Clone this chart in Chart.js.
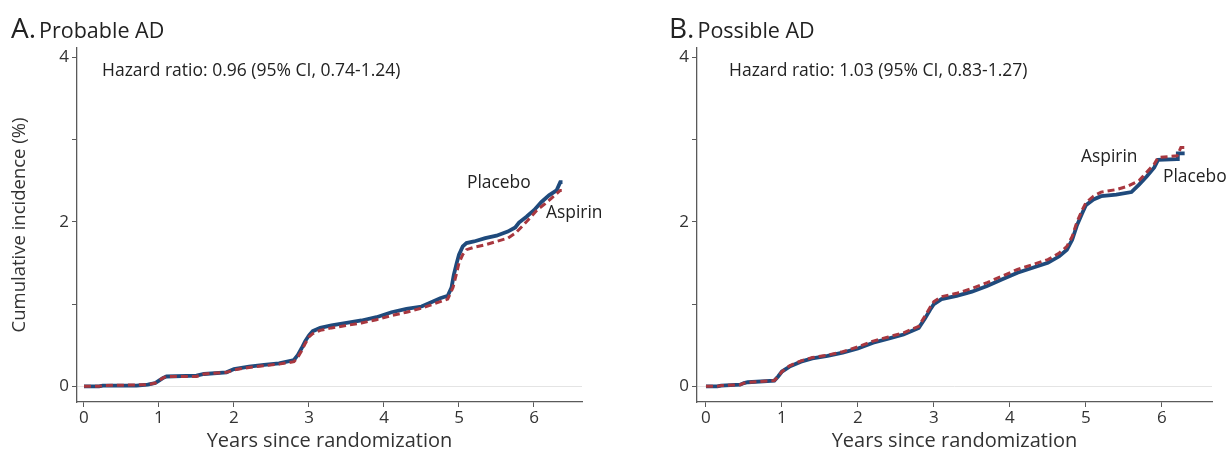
<!DOCTYPE html>
<html>
<head>
<meta charset="utf-8">
<script src="https://cdn.jsdelivr.net/npm/chart.js@4/dist/chart.umd.min.js"></script>
<style>
  html, body { margin: 0; padding: 0; background: #fff; }
  body { width: 1228px; height: 457px; position: relative; overflow: hidden; font-family: "Open Sans", "Noto Sans", sans-serif; color: #222; }
  .panel { position: absolute; top: 0; width: 614px; height: 457px; }
  .txt { position: absolute; white-space: nowrap; line-height: 1; }
  .ttl { position: absolute; white-space: nowrap; display: flex; align-items: baseline; }
  .ttl .big { font-size: 28px; }
  .ttl .small { font-size: 21.5px; margin-left: 3px; }
</style>
</head>
<body>
<div class="panel" style="left:0"><canvas id="cA" width="614" height="457"></canvas></div>
<div class="panel" style="left:614px"><canvas id="cB" width="614" height="457"></canvas></div>

<div class="ttl" style="left:11px; top:8px;"><span class="big">A.</span><span class="small">Probable AD</span></div>
<div class="ttl" style="left:669px; top:8px;"><span class="big">B.</span><span class="small">Possible AD</span></div>

<div class="txt" style="left:102px; top:61px; font-size:17.5px;">Hazard ratio: 0.96 (95% CI, 0.74-1.24)</div>
<div class="txt" style="left:729px; top:61px; font-size:17.5px;">Hazard ratio: 1.03 (95% CI, 0.83-1.27)</div>

<div class="txt" style="left:467px; top:173px; font-size:17.4px;">Placebo</div>
<div class="txt" style="left:546px; top:203px; font-size:17.4px;">Aspirin</div>
<div class="txt" style="left:1081px; top:147px; font-size:17.4px;">Aspirin</div>
<div class="txt" style="left:1163px; top:167px; font-size:17.4px;">Placebo</div>

<script>
// ---- Data (years since randomization, cumulative incidence %) ----
const xTickValues = [0, 1, 2, 3, 4, 5, 6];
const yTickValues = [0, 1, 2, 3, 4];
const yTickLabels = [0, 2, 4];

// Panel A: Probable AD
const probPlaceboX = [0,0.2,0.25,0.7,0.85,0.95,1.0,1.05,1.1,1.5,1.6,1.9,2.0,2.2,2.4,2.6,2.8,2.85,2.9,2.95,3.0,3.05,3.15,3.3,3.5,3.7,3.9,4.1,4.3,4.5,4.6,4.75,4.85,4.9,4.93,4.97,5.0,5.05,5.1,5.2,5.35,5.5,5.65,5.75,5.8,5.9,6.0,6.1,6.2,6.3,6.35,6.38];
const probPlaceboY = [0,0,0.01,0.01,0.02,0.04,0.07,0.10,0.12,0.13,0.15,0.17,0.21,0.24,0.26,0.28,0.32,0.38,0.46,0.55,0.62,0.67,0.71,0.74,0.77,0.80,0.84,0.90,0.94,0.97,1.01,1.07,1.10,1.20,1.35,1.50,1.60,1.70,1.74,1.76,1.80,1.83,1.88,1.93,1.99,2.06,2.14,2.24,2.32,2.38,2.48,2.48];
const probAspirinX = [0,0.2,0.25,0.85,0.95,1.0,1.05,1.1,1.5,1.6,1.9,2.0,2.2,2.4,2.6,2.8,2.85,2.9,2.95,3.0,3.05,3.15,3.3,3.5,3.7,3.9,4.1,4.3,4.5,4.6,4.75,4.85,4.92,4.97,5.0,5.05,5.1,5.2,5.35,5.5,5.65,5.75,5.85,5.95,6.05,6.15,6.25,6.35,6.37];
const probAspirinY = [0,0,0.01,0.02,0.04,0.07,0.10,0.12,0.12,0.15,0.17,0.20,0.23,0.25,0.27,0.30,0.35,0.43,0.52,0.60,0.64,0.68,0.71,0.74,0.77,0.81,0.86,0.90,0.95,0.98,1.03,1.06,1.20,1.38,1.50,1.60,1.66,1.69,1.72,1.76,1.80,1.86,1.95,2.05,2.15,2.22,2.30,2.38,2.38];

// Panel B: Possible AD
const possPlaceboX = [0,0.15,0.2,0.45,0.5,0.55,0.9,0.95,1.0,1.1,1.25,1.4,1.6,1.8,2.0,2.2,2.4,2.6,2.8,2.88,2.95,3.0,3.1,3.3,3.5,3.7,3.9,4.1,4.3,4.5,4.65,4.75,4.82,4.88,4.95,5.0,5.1,5.2,5.4,5.6,5.7,5.8,5.9,5.95,6.2,6.21,6.3];
const possPlaceboY = [0,0,0.01,0.02,0.04,0.05,0.07,0.12,0.18,0.24,0.30,0.34,0.37,0.41,0.46,0.53,0.58,0.63,0.71,0.82,0.93,1.00,1.06,1.10,1.15,1.22,1.30,1.38,1.44,1.50,1.58,1.66,1.78,1.95,2.10,2.20,2.27,2.31,2.33,2.36,2.45,2.55,2.66,2.75,2.76,2.83,2.83];
const possAspirinX = [0,0.15,0.2,0.45,0.5,0.55,0.9,0.95,1.0,1.1,1.25,1.4,1.6,1.8,2.0,2.2,2.4,2.6,2.8,2.88,2.95,3.0,3.1,3.3,3.5,3.7,3.9,4.1,4.3,4.5,4.65,4.75,4.82,4.88,4.95,5.0,5.1,5.2,5.4,5.55,5.7,5.8,5.9,5.95,6.2,6.25,6.3];
const possAspirinY = [0,0,0.01,0.02,0.04,0.05,0.07,0.12,0.18,0.25,0.31,0.35,0.38,0.42,0.48,0.55,0.60,0.65,0.73,0.85,0.96,1.03,1.09,1.13,1.19,1.26,1.34,1.42,1.48,1.54,1.62,1.70,1.82,1.99,2.14,2.23,2.31,2.36,2.39,2.43,2.50,2.60,2.70,2.78,2.80,2.90,2.90];

const placeboColor = '#1f4a7c';
const aspirinColor = '#a8373f';
const axisColor = '#5a5a5a';
const fontFamily = '"Open Sans", "Noto Sans", sans-serif';

function pts(xs, ys) { return xs.map((x, i) => ({ x: x, y: ys[i] })); }

function makeChart(id, placeboX, placeboY, aspirinX, aspirinY, opts) {
  return new Chart(document.getElementById(id), {
    type: 'line',
    data: {
      datasets: [
        { label: 'Aspirin', data: pts(aspirinX, aspirinY), borderColor: aspirinColor, borderWidth: 3,
          borderDash: [7, 4], pointRadius: 0, fill: false, order: 1 },
        { label: 'Placebo', data: pts(placeboX, placeboY), borderColor: placeboColor, borderWidth: 3.8,
          pointRadius: 0, fill: false, order: 2 }
      ]
    },
    options: {
      responsive: false,
      animation: false,
      layout: { padding: { top: 48, right: opts.rightPad, left: 0, bottom: 0 } },
      plugins: { legend: { display: false }, tooltip: { enabled: false } },
      scales: {
        x: {
          type: 'linear',
          min: opts.xMin, max: opts.xMax,
          afterFit: s => { s.height = 55; },
          afterBuildTicks: s => { s.ticks = xTickValues.map(v => ({ value: v })); },
          grid: { drawOnChartArea: false, drawTicks: true, tickLength: 5, tickColor: axisColor, tickWidth: 1 },
          border: { display: true, color: axisColor, width: 1.3 },
          ticks: { color: '#333', font: { family: fontFamily, size: 17 }, padding: 1, maxRotation: 0 },
          title: { display: true, text: 'Years since randomization', color: '#333',
                   font: { family: fontFamily, size: 20 }, padding: { top: 0, bottom: 4 } }
        },
        y: {
          type: 'linear',
          min: -0.19, max: 4.11,
          afterFit: s => { s.width = opts.yAxisWidth; },
          afterBuildTicks: s => { s.ticks = yTickValues.map(v => ({ value: v })); },
          grid: {
            drawOnChartArea: true, drawTicks: true, tickLength: 5, tickColor: axisColor, tickWidth: 1,
            color: c => (c.tick && c.tick.value === 0) ? '#e4e4e4' : 'rgba(0,0,0,0)',
            lineWidth: 1
          },
          border: { display: true, color: axisColor, width: 1.3 },
          ticks: { color: '#333', font: { family: fontFamily, size: 17 }, padding: 3,
                   callback: v => yTickLabels.includes(v) ? String(v) : '' },
          title: { display: opts.showYTitle, text: 'Cumulative incidence (%)', color: '#333',
                   font: { family: fontFamily, size: 18.5 }, padding: { top: 9, bottom: 0 } }
        }
      }
    }
  });
}

makeChart('cA', probPlaceboX, probPlaceboY, probAspirinX, probAspirinY,
  { xMin: -0.093, xMax: 6.64, rightPad: 32, yAxisWidth: 77, showYTitle: true });
makeChart('cB', possPlaceboX, possPlaceboY, possAspirinX, possAspirinY,
  { xMin: -0.118, xMax: 6.66, rightPad: 16, yAxisWidth: 83, showYTitle: false });
</script>
</body>
</html>
